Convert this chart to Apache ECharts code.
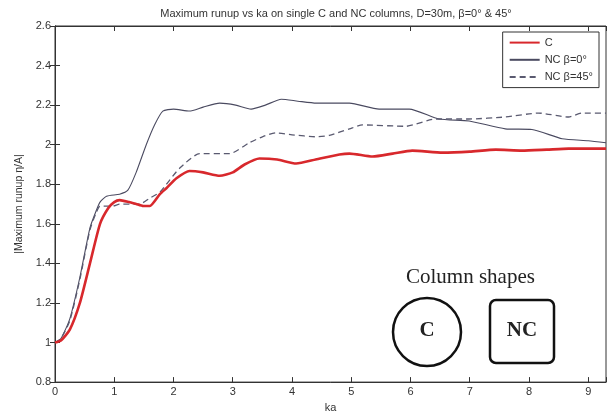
<!DOCTYPE html>
<html>
<head>
<meta charset="utf-8">
<script src="https://cdn.jsdelivr.net/npm/echarts@6/dist/echarts.min.js"></script>
<style>
  html, body { margin: 0; padding: 0; background: #fff; }
  #chart { width: 609px; height: 418px; }
</style>
</head>
<body>
<div id="chart"></div>
<script>
// ka 值 + 最大爬高
var kaC = [0, 0.1, 0.25, 0.42, 0.59, 0.76, 0.9, 1.0, 1.09, 1.25, 1.37, 1.49, 1.6, 1.77, 1.88, 2.05, 2.27, 2.5, 2.78, 3.0, 3.2, 3.45, 3.75, 4.07, 4.4, 4.8, 4.97, 5.36, 5.7, 6.03, 6.54, 7.0, 7.44, 7.88, 8.3, 8.67, 9.3]
var valC = [1.0, 1.01, 1.065, 1.2, 1.4, 1.6, 1.68, 1.71, 1.72, 1.71, 1.70, 1.69, 1.69, 1.75, 1.78, 1.83, 1.867, 1.86, 1.843, 1.86, 1.9, 1.93, 1.925, 1.905, 1.925, 1.95, 1.955, 1.94, 1.955, 1.97, 1.96, 1.965, 1.975, 1.97, 1.975, 1.98, 1.98]

var kaNC0 = [0, 0.1, 0.25, 0.42, 0.59, 0.7, 0.76, 0.87, 1.09, 1.23, 1.37, 1.54, 1.68, 1.82, 2.0, 2.27, 2.5, 2.78, 3.05, 3.31, 3.55, 3.82, 4.1, 4.41, 4.97, 5.47, 5.98, 6.48, 6.99, 7.6, 8.05, 8.56, 9.0, 9.3]
var valNC0 = [1.0, 1.02, 1.12, 1.33, 1.58, 1.67, 1.71, 1.74, 1.75, 1.77, 1.86, 2.0, 2.10, 2.17, 2.18, 2.17, 2.19, 2.21, 2.2, 2.18, 2.2, 2.23, 2.22, 2.21, 2.21, 2.18, 2.18, 2.13, 2.12, 2.08, 2.077, 2.03, 2.02, 2.01]

var kaNC45 = [0, 0.1, 0.25, 0.42, 0.59, 0.7, 0.76, 0.98, 1.09, 1.43, 1.6, 1.77, 1.88, 2.1, 2.44, 2.95, 3.28, 3.5, 3.73, 4.0, 4.41, 4.63, 4.97, 5.19, 5.92, 6.43, 6.99, 7.6, 8.16, 8.67, 8.89, 9.3]
var valNC45 = [1.0, 1.02, 1.11, 1.32, 1.57, 1.66, 1.69, 1.69, 1.7, 1.70, 1.73, 1.76, 1.80, 1.88, 1.955, 1.955, 2.01, 2.04, 2.06, 2.05, 2.04, 2.047, 2.08, 2.10, 2.093, 2.13, 2.13, 2.14, 2.16, 2.14, 2.16, 2.16]

var xTicks = [0, 1, 2, 3, 4, 5, 6, 7, 8, 9]

function pairs (xs, ys) {
  return xs.map(function (x, i) { return [x, ys[i]] })
}

var font = 'Liberation Sans Narrow, Liberation Sans, Arial'
var serif = 'Liberation Serif, DejaVu Serif, serif'
var axisColor = '#333'

var myChart = echarts.init(document.getElementById('chart'))
var option = {
  backgroundColor: '#fff',
  animation: false,
  title: {
    text: 'Maximum runup vs ka on single C and NC columns, D=30m, β=0° & 45°',
    left: 331,
    top: 3,
    textAlign: 'center',
    textStyle: { fontSize: 11, fontWeight: 'normal', color: '#333', fontFamily: font }
  },
  grid: {
    left: 55,
    right: 2,
    top: 26,
    bottom: 32,
    show: true,
    borderColor: axisColor,
    borderWidth: 1
  },
  legend: {
    orient: 'vertical',
    right: 10,
    top: 32,
    padding: [5, 6, 5, 6],
    itemGap: 6,
    itemWidth: 30,
    itemHeight: 14,
    backgroundColor: '#fff',
    borderColor: '#333',
    borderWidth: 1,
    itemStyle: { color: 'rgba(0,0,0,0)', borderWidth: 0 }, // 只要线，不要圆点
    textStyle: { fontSize: 11, color: '#333', fontFamily: font },
    data: ['C', 'NC β=0°', 'NC β=45°']
  },
  xAxis: [
    {
      type: 'value',
      min: 0,
      max: 9.3,
      interval: 1,
      name: 'ka',
      nameLocation: 'middle',
      nameGap: 19,
      nameTextStyle: { fontSize: 11, color: '#333', fontFamily: font },
      axisLine: { show: true, lineStyle: { color: axisColor } },
      axisTick: { show: true, inside: true, length: 5, lineStyle: { color: axisColor } },
      axisLabel: {
        margin: 4,
        fontSize: 11,
        color: '#333',
        fontFamily: font,
        formatter: function (v) { return xTicks.indexOf(v) >= 0 ? String(v) : '' }
      },
      splitLine: { show: false }
    },
    {
      // 上边框刻度
      type: 'value',
      position: 'top',
      min: 0,
      max: 9.3,
      interval: 1,
      axisLine: { show: true, lineStyle: { color: axisColor } },
      axisTick: { show: true, inside: true, length: 5, lineStyle: { color: axisColor } },
      axisLabel: { show: false },
      splitLine: { show: false }
    }
  ],
  yAxis: [
    {
      type: 'value',
      min: 0.8,
      max: 2.6,
      interval: 0.2,
      name: '|Maximum runup η/A|',
      nameLocation: 'middle',
      nameRotate: 90,
      nameGap: 30,
      nameTextStyle: { fontSize: 10.5, color: '#333', fontFamily: font },
      axisLine: { show: true, lineStyle: { color: axisColor } },
      axisTick: { show: true, inside: true, length: 5, lineStyle: { color: axisColor } },
      axisLabel: {
        margin: 4,
        fontSize: 11,
        color: '#333',
        fontFamily: font,
        formatter: function (v) { return String(Math.round(v * 10) / 10) }
      },
      splitLine: { show: false }
    },
    {
      // 右边框刻度
      type: 'value',
      position: 'right',
      min: 0.8,
      max: 2.6,
      interval: 0.2,
      axisLine: { show: true, lineStyle: { color: axisColor } },
      axisTick: { show: true, inside: true, length: 5, lineStyle: { color: axisColor } },
      axisLabel: { show: false },
      splitLine: { show: false }
    }
  ],
  graphic: [
    {
      type: 'text',
      left: 406,
      top: 267,
      style: { text: 'Column shapes', fontSize: 21, fontFamily: serif, fill: '#222' }
    },
    {
      type: 'circle',
      shape: { cx: 427, cy: 332, r: 34 },
      style: { fill: 'none', stroke: '#111', lineWidth: 2.5 }
    },
    {
      type: 'text',
      x: 427,
      y: 331,
      style: { text: 'C', fontSize: 21, fontWeight: 'bold', fontFamily: serif, fill: '#222', align: 'center', verticalAlign: 'middle' }
    },
    {
      type: 'rect',
      shape: { x: 490, y: 300, width: 64, height: 63, r: 6 },
      style: { fill: 'none', stroke: '#111', lineWidth: 2.5 }
    },
    {
      type: 'text',
      x: 522,
      y: 331,
      style: { text: 'NC', fontSize: 21, fontWeight: 'bold', fontFamily: serif, fill: '#222', align: 'center', verticalAlign: 'middle' }
    }
  ],
  series: [
    {
      name: 'NC β=0°',
      type: 'line',
      smooth: 0.2,
      showSymbol: false,
      symbol: 'none',
      lineStyle: { width: 1.1, color: '#4a4a60' },
      itemStyle: { color: '#4a4a60' },
      data: pairs(kaNC0, valNC0)
    },
    {
      name: 'NC β=45°',
      type: 'line',
      smooth: 0.2,
      showSymbol: false,
      symbol: 'none',
      lineStyle: { width: 1.3, color: '#5a5a70', type: [6, 4] },
      itemStyle: { color: '#5a5a70' },
      data: pairs(kaNC45, valNC45)
    },
    {
      name: 'C',
      type: 'line',
      smooth: 0.2,
      showSymbol: false,
      symbol: 'none',
      z: 3,
      lineStyle: { width: 2.6, color: '#d8282c' },
      itemStyle: { color: '#d8282c' },
      data: pairs(kaC, valC)
    }
  ]
}
myChart.setOption(option, true)
</script>
</body>
</html>
